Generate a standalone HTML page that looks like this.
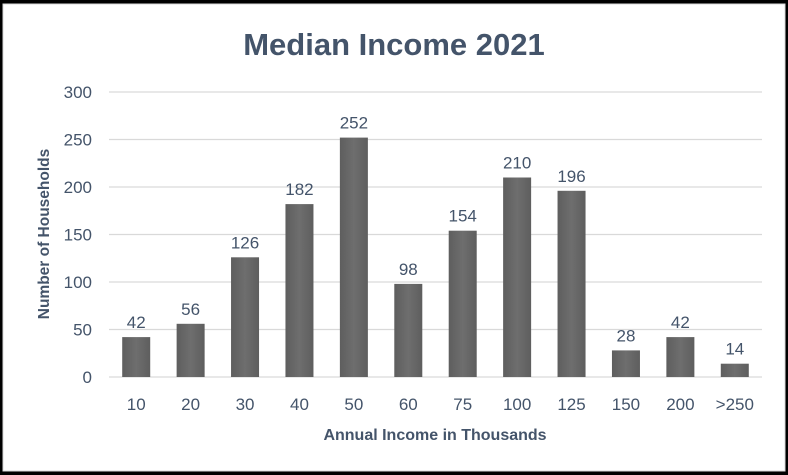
<!DOCTYPE html>
<html><head><meta charset="utf-8"><style>
html,body{margin:0;padding:0;background:#000;}
svg{display:block;font-family:"Liberation Sans",sans-serif;}
</style></head><body>
<svg id="chart" width="788" height="475">
<rect x="3" y="4" width="782" height="467" fill="#fff" stroke="#d9d9d9"/>
<text x="394" y="55" text-anchor="middle" font-size="31" font-weight="bold" fill="#44546a">Median Income 2021</text>
<text transform="translate(49,234) rotate(-90)" text-anchor="middle" font-size="15.5" font-weight="bold" fill="#44546a">Number of Households</text>
<text x="435" y="440" text-anchor="middle" font-size="16" font-weight="bold" fill="#44546a">Annual Income in Thousands</text>
<defs><linearGradient id="bg" x1="0" x2="1"><stop offset="0" stop-color="#5e5e5e"/><stop offset="0.5" stop-color="#6e6e6e"/><stop offset="1" stop-color="#5e5e5e"/></linearGradient></defs>
<g id="grid"></g><g id="bars"></g>
</svg>
<script>
const categories=["10","20","30","40","50","60","75","100","125","150","200",">250"];
const values=[42,56,126,182,252,98,154,210,196,28,42,14];
const yTicks=[0,50,100,150,200,250,300];
const NS="http://www.w3.org/2000/svg";
const x0=109,x1=762,y0=377,y1=92,yMax=300;
const band=(x1-x0)/categories.length;
function xs(i){return x0+band*(i+0.5);}
function ys(v){return y0-(v/yMax)*(y0-y1);}
const grid=document.getElementById('grid'),bars=document.getElementById('bars');
function mk(t,a,p){const e=document.createElementNS(NS,t);for(const k in a)e.setAttribute(k,a[k]);p.appendChild(e);return e;}
yTicks.forEach(t=>{
const l=mk('line',{x1:x0,x2:x1,y1:ys(t),y2:ys(t),stroke:'#d9d9d9','stroke-width':1.3},grid);


const tx=mk('text',{x:92,y:ys(t)+6,'text-anchor':'end','font-size':17,fill:'#44546a'},grid);
tx.textContent=t;


});
categories.forEach((c,i)=>{
const bw=28,v=values[i];
const r=mk('rect',{x:xs(i)-bw/2,y:ys(v),width:bw,height:y0-ys(v),fill:'url(#bg)'},bars);


const lb=mk('text',{x:xs(i),y:ys(v)-9,'text-anchor':'middle','font-size':17,fill:'#44546a'},bars);
lb.textContent=v;


const xt=mk('text',{x:xs(i),y:410,'text-anchor':'middle','font-size':17,fill:'#44546a'},bars);
xt.textContent=c;


});
</script>
</body></html>
